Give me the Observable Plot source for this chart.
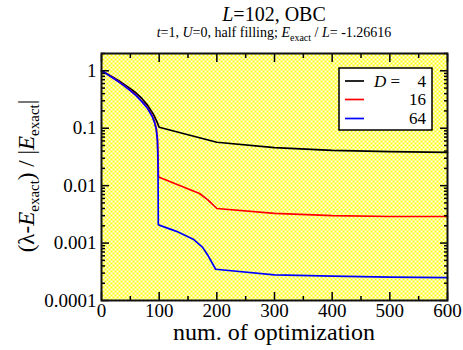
<!DOCTYPE html>
<html>
<head>
<meta charset="utf-8">
<script src="https://cdn.jsdelivr.net/npm/d3@7"></script>
<script src="https://cdn.jsdelivr.net/npm/@observablehq/plot@0.6"></script>
<style>
  html, body { margin: 0; padding: 0; background: white; }
  #chart { width: 463px; height: 350px; }
  #chart svg, #chart svg text { font-family: "Liberation Serif", Tinos, "Times New Roman", "DejaVu Serif", serif !important; }
</style>
</head>
<body>
<div id="chart"></div>
<script>
// ---- data ----
const seriesNames = ["4", "16", "64"];
const seriesColors = ["#000000", "#ff0000", "#0000ff"];

const stepsD4 = [0, 10, 20, 30, 40, 50, 60, 70, 80, 90, 96, 100, 200, 300, 400, 500, 600];
const errD4   = [1.0, 0.88, 0.77, 0.67, 0.575, 0.49, 0.41, 0.33, 0.25, 0.175, 0.13, 0.104, 0.057, 0.046, 0.041, 0.039, 0.038];

const stepsD16 = [0, 10, 20, 30, 40, 50, 60, 70, 80, 88, 92, 95, 97, 98, 98.7, 100, 170, 185, 200, 300, 400, 500, 600];
const errD16   = [1.0, 0.875, 0.755, 0.645, 0.545, 0.455, 0.375, 0.295, 0.225, 0.165, 0.13, 0.1, 0.065, 0.035, 0.0145, 0.014, 0.0073, 0.0056, 0.0040, 0.0033, 0.0030, 0.0029, 0.0029];

const stepsD64 = [0, 10, 20, 30, 40, 50, 60, 70, 80, 88, 92, 95, 97, 98, 98.5, 100, 130, 160, 175, 185, 198, 300, 400, 500, 600];
const errD64   = [1.0, 0.87, 0.75, 0.64, 0.54, 0.45, 0.37, 0.29, 0.22, 0.16, 0.125, 0.095, 0.06, 0.025, 0.0021, 0.00205, 0.0016, 0.00115, 0.00085, 0.0006, 0.00035, 0.00028, 0.000265, 0.000255, 0.00025];

const xTicks = [0, 100, 200, 300, 400, 500, 600];
const xMinorTicks = [50, 150, 250, 350, 450, 550];
const yTicks = [1, 0.1, 0.01, 0.001, 0.0001];
const yTickLabels = ["1", "0.1", "0.01", "0.001", "0.0001"];

// ---- build table ----
const rows = [];
[[stepsD4, errD4], [stepsD16, errD16], [stepsD64, errD64]].forEach(([xs, ys], k) => {
  xs.forEach((x, i) => rows.push({series: seriesNames[k], step: x, err: ys[i]}));
});
const yMinor = [];
yTicks.forEach(t => { for (let m = 2; m <= 9; m++) { const v = m * t; if (v <= 2) yMinor.push(v); } });

const font = "Liberation Serif, Tinos, Times New Roman, DejaVu Serif, serif";

const chart = Plot.plot({
  width: 463,
  height: 350,
  marginTop: 53,
  marginBottom: 50,
  marginLeft: 101,
  marginRight: 16,
  style: {fontFamily: font, fontSize: "19px", background: "white", color: "black"},
  x: {domain: [0, 600]},
  y: {type: "log", domain: [1e-4, 2]},
  color: {domain: seriesNames, range: seriesColors},
  marks: [
    Plot.frame({fill: "url(#dots)", stroke: null}),
    Plot.line(rows, {x: "step", y: "err", z: "series", stroke: "series", strokeWidth: 1.7, curve: "linear"}),
    // inward ticks
    Plot.axisX({anchor: "bottom", ticks: xTicks, tickSize: -8, fill: "none", label: null, strokeWidth: 1.5}),
    Plot.axisX({anchor: "top", ticks: xTicks, tickSize: -8, fill: "none", label: null, strokeWidth: 1.5}),
    Plot.axisX({anchor: "bottom", ticks: xMinorTicks, tickSize: -4, fill: "none", label: null, strokeWidth: 1.5}),
    Plot.axisX({anchor: "top", ticks: xMinorTicks, tickSize: -4, fill: "none", label: null, strokeWidth: 1.5}),
    Plot.axisY({anchor: "left", ticks: yTicks, tickSize: -8, fill: "none", label: null, strokeWidth: 1.5}),
    Plot.axisY({anchor: "right", ticks: yTicks, tickSize: -8, fill: "none", label: null, strokeWidth: 1.5}),
    Plot.axisY({anchor: "left", ticks: yMinor, tickSize: -4, fill: "none", label: null, strokeWidth: 1.5}),
    Plot.axisY({anchor: "right", ticks: yMinor, tickSize: -4, fill: "none", label: null, strokeWidth: 1.5}),
    // tick labels
    Plot.axisX({anchor: "bottom", ticks: xTicks, tickSize: 0, tickPadding: 3, label: null, fontSize: 19}),
    Plot.axisY({anchor: "left", ticks: yTicks, tickSize: 0, tickPadding: 5, label: null, fontSize: 19,
      tickFormat: d => yTickLabels[yTicks.indexOf(d)]}),
    Plot.frame({stroke: "#111", strokeWidth: 2})
  ]
});
document.getElementById("chart").appendChild(chart);

// ---- decorations: pattern, titles, axis labels, legend ----
const svg = d3.select(chart);
const defs = svg.insert("defs", ":first-child");
const pat = defs.append("pattern").attr("id", "dots").attr("patternUnits", "userSpaceOnUse")
  .attr("width", 4).attr("height", 4);
pat.append("rect").attr("width", 4).attr("height", 4).attr("fill", "#ffffff");
pat.append("rect").attr("x", 0).attr("y", 0).attr("width", 2).attr("height", 2).attr("fill", "#ffff00");
pat.append("rect").attr("x", 2).attr("y", 2).attr("width", 2).attr("height", 2).attr("fill", "#ffff00");

const cx = 274;
function txt(x, y, size, anchor) {
  return svg.append("text").attr("x", x).attr("y", y).attr("text-anchor", anchor)
    .attr("font-family", font).attr("font-size", size).attr("fill", "black");
}
// title
const t1 = txt(cx, 21, 20, "middle");
t1.append("tspan").attr("font-style", "italic").text("L");
t1.append("tspan").text("=102, OBC");

// subtitle
const t2 = txt(cx, 37, 14, "middle");
t2.append("tspan").attr("font-style", "italic").text("t");
t2.append("tspan").text("=1, ");
t2.append("tspan").attr("font-style", "italic").text("U");
t2.append("tspan").text("=0, half filling; ");
t2.append("tspan").attr("font-style", "italic").text("E");
t2.append("tspan").attr("font-size", 10).attr("dy", 4).text("exact");
t2.append("tspan").attr("dy", -4).text(" / ");
t2.append("tspan").attr("font-style", "italic").text("L");
t2.append("tspan").text("= -1.26616");

// x label
txt(cx, 340, 24, "middle").text("num. of optimization");

// y label
const yl = txt(0, 0, 23, "middle").attr("transform", "translate(34,176) rotate(-90)");
yl.append("tspan").text("(λ-");
yl.append("tspan").attr("font-style", "italic").text("E");
yl.append("tspan").attr("font-size", 15).attr("dy", 5).text("exact");
yl.append("tspan").attr("dy", -5).text(") / |");
yl.append("tspan").attr("font-style", "italic").text("E");
yl.append("tspan").attr("font-size", 15).attr("dy", 5).text("exact");
yl.append("tspan").attr("dy", -5).text("|");

// legend
const lg = svg.append("g");
lg.append("rect").attr("x", 339).attr("y", 68).attr("width", 93).attr("height", 62)
  .attr("fill", "white").attr("stroke", "black").attr("stroke-width", 1.5);
const rowY = [81, 99.5, 118.5];
seriesNames.forEach((name, i) => {
  lg.append("line").attr("x1", 345).attr("x2", 364).attr("y1", rowY[i]).attr("y2", rowY[i])
    .attr("stroke", seriesColors[i]).attr("stroke-width", 1.7);
  txt(426, rowY[i] + 5.5, 17, "end").text(name);
});
const dl = txt(374, rowY[0] + 5.5, 17, "start");
dl.append("tspan").attr("font-style", "italic").text("D");
dl.append("tspan").text(" =");
</script>
</body>
</html>
